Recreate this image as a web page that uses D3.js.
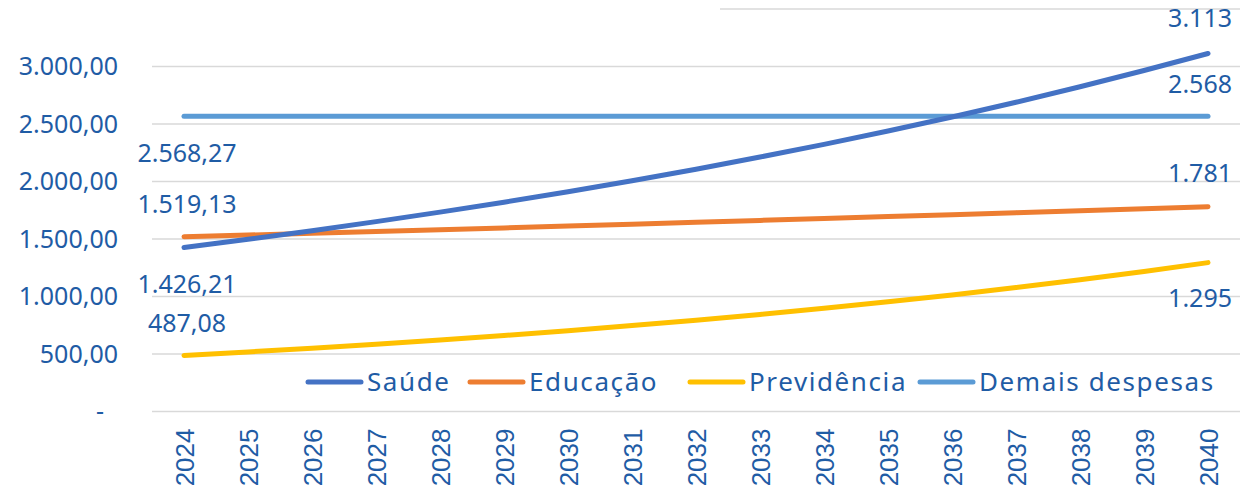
<!DOCTYPE html>
<html>
<head>
<meta charset="utf-8">
<script src="https://cdn.jsdelivr.net/npm/d3@7"></script>
<style>
  body { margin: 0; background: #fff; }
  svg text { font-family: "Noto Sans", sans-serif; fill: #1f5ca5; }
  .year text { font-family: "Liberation Sans", Arial, sans-serif; }
</style>
</head>
<body>
<div class="plots"></div>
<script>
var years = ["2024","2025","2026","2027","2028","2029","2030","2031","2032","2033","2034","2035","2036","2037","2038","2039","2040"];
var saude = [1426.21,1497.52,1572.40,1651.02,1733.57,1820.25,1911.26,2006.83,2107.17,2212.52,2323.15,2439.31,2561.27,2689.34,2823.80,2964.99,3113.24];
var educacao = [1519.13,1534.32,1549.66,1565.16,1580.81,1596.62,1612.58,1628.71,1645.00,1661.45,1678.06,1694.84,1711.79,1728.91,1746.20,1763.66,1781.30];
var previdencia = [487.08,517.77,550.39,585.06,621.92,661.10,702.75,747.02,794.08,844.11,897.29,953.82,1013.91,1077.78,1145.68,1217.86,1294.58];
var demais = [2568.27,2568.27,2568.27,2568.27,2568.27,2568.27,2568.27,2568.27,2568.27,2568.27,2568.27,2568.27,2568.27,2568.27,2568.27,2568.27,2568.27];
var seriesNames = ["Saúde","Educação","Previdência","Demais despesas"];
var yTicks = [0,500,1000,1500,2000,2500,3000];

var colors = ["#4472c4","#ed7d31","#ffc000","#5b9bd5"];
var allSeries = [saude, educacao, previdencia, demais];

var width = 1247, height = 491;
var margin = {left: 152, right: 7, top: 9, bottom: 79.5};

var svg = d3.select(".plots").append("svg")
    .attr("width", width)
    .attr("height", height);

var x = d3.scalePoint()
    .domain(years)
    .range([margin.left, width - margin.right])
    .padding(0.5);

var y = d3.scaleLinear()
    .domain([0, 3500])
    .range([height - margin.bottom, margin.top]);

var fmt2 = d3.formatLocale({decimal: ",", thousands: ".", grouping: [3], currency: ["",""]});
var fmtFirst = fmt2.format(",.2f");
var fmtLast = fmt2.format(",.0f");

// gridlines
svg.append("g").selectAll("line")
  .data(yTicks)
  .enter().append("line")
    .attr("x1", margin.left)
    .attr("x2", width - margin.right)
    .attr("y1", function(d) { return y(d); })
    .attr("y2", function(d) { return y(d); })
    .attr("stroke", "#d9d9d9")
    .attr("stroke-width", 1.5);

// top gridline is partly hidden in the original
svg.append("line")
    .attr("x1", 720)
    .attr("x2", width - margin.right)
    .attr("y1", y(3500))
    .attr("y2", y(3500))
    .attr("stroke", "#d9d9d9")
    .attr("stroke-width", 1.5);

// y labels
svg.append("g").selectAll("text")
  .data(yTicks)
  .enter().append("text")
    .attr("x", function(d) { return d === 0 ? 104 : 118; })
    .attr("y", function(d) { return y(d); })
    .attr("dy", "0.35em")
    .attr("text-anchor", "end")
    .style("font-size", "25px")
    .text(function(d) { return d === 0 ? "-" : fmtFirst(d); });

// x labels
var xAxis = svg.append("g")
    .attr("class", "year")
    .attr("transform", "translate(0," + y(0) + ")")
    .call(d3.axisBottom(x).tickSize(0).tickPadding(0));
xAxis.select(".domain").remove();
xAxis.selectAll("text")
    .attr("transform", "rotate(-90)")
    .attr("x", -17)
    .attr("y", 0)
    .attr("dy", "0.36em")
    .attr("text-anchor", "end")
    .style("font-size", "26px")
    .style("fill", "#1f5ca5");

var line = d3.line()
    .x(function(d, i) { return x(years[i]); })
    .y(function(d) { return y(d); });

// saude drawn on top
var order = [3, 2, 1, 0];
order.forEach(function(k) {
  svg.append("path")
      .datum(allSeries[k])
      .attr("fill", "none")
      .attr("stroke", colors[k])
      .attr("stroke-width", 5)
      .attr("stroke-linejoin", "round")
      .attr("stroke-linecap", "round")
      .attr("d", line);
});

// data labels: first and last points
var labelOffsets = [
  {first: 37, last: -35},   // saude
  {first: -33, last: -33},  // educacao
  {first: -32, last: 36},   // previdencia
  {first: 37, last: -32}    // demais
];
var last = years.length - 1;
allSeries.forEach(function(s, k) {
  svg.append("text")
      .attr("x", x(years[0]) + 3)
      .attr("y", y(s[0]) + labelOffsets[k].first)
      .attr("dy", "0.35em")
      .attr("text-anchor", "middle")
      .style("font-size", "25px")
      .text(fmtFirst(s[0]));
  svg.append("text")
      .attr("x", x(years[last]) + 24)
      .attr("y", y(s[last]) + labelOffsets[k].last)
      .attr("dy", "0.35em")
      .attr("text-anchor", "end")
      .style("font-size", "25px")
      .text(fmtLast(s[last]));
});

// legend
var legendX = [308, 470, 690, 920];
var legend = svg.append("g").selectAll("g")
  .data(seriesNames)
  .enter().append("g")
    .attr("transform", function(d, i) { return "translate(" + legendX[i] + ",382)"; });
legend.append("line")
    .attr("x1", 0).attr("x2", 53)
    .attr("stroke", function(d, i) { return colors[i]; })
    .attr("stroke-width", 5)
    .attr("stroke-linecap", "round");
legend.append("text")
    .attr("x", 59)
    .attr("dy", "0.35em")
    .style("font-size", "26px")
    .style("letter-spacing", "1.6px")
    .text(function(d) { return d; });
</script>
</body>
</html>
